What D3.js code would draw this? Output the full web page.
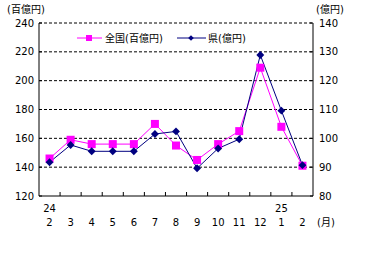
<!DOCTYPE html>
<html>
<head>
<meta charset="utf-8">
<script src="https://cdn.jsdelivr.net/npm/d3@7"></script>
<style>
  body { margin: 0; background: #fff; }
  text { font-family: "DejaVu Sans", "Noto Sans CJK JP", sans-serif; font-size: 10px; fill: #000; }
</style>
</head>
<body>
<script>
const width = 365;
const height = 256;

// 月ラベル（2月〜翌2月）
const months = ["2", "3", "4", "5", "6", "7", "8", "9", "10", "11", "12", "1", "2"];
const yearLabels = [{ idx: 0, text: "24" }, { idx: 11, text: "25" }];

// 全国（百億円）
const zenkoku = [146, 159, 156, 156, 156, 170, 155, 145, 156, 165, 209, 168, 141];
// 県（億円）
const ken = [91.7, 97.7, 95.5, 95.5, 95.5, 101.5, 102.4, 89.6, 96.5, 99.7, 128.9, 109.6, 90.7];

const leftTicks = [120, 140, 160, 180, 200, 220, 240];
const rightTicks = [80, 90, 100, 110, 120, 130, 140];

const margin = { left: 39, right: 52, top: 23, bottom: 60 };
const plotW = width - margin.left - margin.right;
const plotH = height - margin.top - margin.bottom;

const svg = d3.select("body").append("svg")
    .attr("width", width)
    .attr("height", height);

const g = svg.append("g").attr("transform", `translate(${margin.left},${margin.top})`);

const x = d3.scaleBand().domain(d3.range(months.length)).range([0, plotW]);
const yL = d3.scaleLinear().domain([120, 240]).range([plotH, 0]);
const yR = d3.scaleLinear().domain([80, 140]).range([plotH, 0]);

// 破線の目盛線
g.selectAll("line.grid")
    .data(leftTicks.filter(d => d > 120))
    .enter().append("line")
    .attr("x1", 0).attr("x2", plotW)
    .attr("y1", d => yL(d)).attr("y2", d => yL(d))
    .attr("stroke", "#000")
    .attr("stroke-width", 1)
    .attr("stroke-dasharray", "3,2");

// 軸線
g.append("line").attr("x1", 0).attr("x2", 0).attr("y1", 0).attr("y2", plotH).attr("stroke", "#000");
g.append("line").attr("x1", plotW).attr("x2", plotW).attr("y1", 0).attr("y2", plotH).attr("stroke", "#000");
g.append("line").attr("x1", 0).attr("x2", plotW).attr("y1", plotH).attr("y2", plotH).attr("stroke", "#000");

// 下の目盛（区切り、内向き）
g.selectAll("line.xtick")
    .data(d3.range(1, months.length))
    .enter().append("line")
    .attr("x1", d => x(d)).attr("x2", d => x(d))
    .attr("y1", plotH).attr("y2", plotH - 4)
    .attr("stroke", "#000");

// 左右の目盛
g.selectAll("line.ltick").data(leftTicks).enter().append("line")
    .attr("x1", 0).attr("x2", 3).attr("y1", d => yL(d)).attr("y2", d => yL(d)).attr("stroke", "#000");
g.selectAll("line.rtick").data(rightTicks).enter().append("line")
    .attr("x1", plotW - 3).attr("x2", plotW).attr("y1", d => yR(d)).attr("y2", d => yR(d)).attr("stroke", "#000");

// 目盛ラベル
g.selectAll("text.ly").data(leftTicks).enter().append("text")
    .attr("x", -5).attr("y", d => yL(d)).attr("dy", "0.35em")
    .attr("text-anchor", "end").text(d => d);
g.selectAll("text.ry").data(rightTicks).enter().append("text")
    .attr("x", plotW + 6).attr("y", d => yR(d)).attr("dy", "0.35em")
    .attr("text-anchor", "start").text(d => d);

g.selectAll("text.mx").data(months).enter().append("text")
    .attr("x", (d, i) => x(i) + x.bandwidth() / 2)
    .attr("y", plotH + 30)
    .attr("text-anchor", "middle").text(d => d);
g.selectAll("text.yr").data(yearLabels).enter().append("text")
    .attr("x", d => x(d.idx) + x.bandwidth() / 2)
    .attr("y", plotH + 16)
    .attr("text-anchor", "middle").text(d => d.text);

g.append("text").attr("x", plotW + 4).attr("y", plotH + 30).text("(月)");
svg.append("text").attr("x", 7).attr("y", 13).text("(百億円)");
svg.append("text").attr("x", 316).attr("y", 13).text("(億円)");

const cx = i => x(i) + x.bandwidth() / 2;

// 全国
g.append("path")
    .datum(zenkoku)
    .attr("d", d3.line().x((d, i) => cx(i)).y(d => yL(d)))
    .attr("fill", "none").attr("stroke", "#ff00ff").attr("stroke-width", 1);

// 県
g.append("path")
    .datum(ken)
    .attr("d", d3.line().x((d, i) => cx(i)).y(d => yR(d)))
    .attr("fill", "none").attr("stroke", "#000080").attr("stroke-width", 1);

g.selectAll("rect.zk").data(zenkoku).enter().append("rect")
    .attr("x", (d, i) => cx(i) - 4).attr("y", d => yL(d) - 4)
    .attr("width", 8).attr("height", 8).attr("fill", "#ff00ff");

const diamond = d3.symbol().type(d3.symbolDiamond2).size(40);
g.selectAll("path.kn").data(ken).enter().append("path")
    .attr("d", diamond)
    .attr("transform", (d, i) => `translate(${cx(i)},${yR(d)})`)
    .attr("fill", "#000080");

// 凡例
const leg = svg.append("g");
leg.append("line").attr("x1", 77).attr("x2", 102).attr("y1", 38).attr("y2", 38).attr("stroke", "#ff00ff");
leg.append("rect").attr("x", 86).attr("y", 35).attr("width", 6).attr("height", 6).attr("fill", "#ff00ff");
leg.append("text").attr("x", 105).attr("y", 38).attr("dy", "0.35em").text("全国(百億円)");
leg.append("line").attr("x1", 177).attr("x2", 206).attr("y1", 38).attr("y2", 38).attr("stroke", "#000080");
leg.append("path").attr("d", d3.symbol().type(d3.symbolDiamond2).size(20))
    .attr("transform", "translate(191,38)").attr("fill", "#000080");
leg.append("text").attr("x", 208).attr("y", 38).attr("dy", "0.35em").text("県(億円)");
</script>
</body>
</html>
